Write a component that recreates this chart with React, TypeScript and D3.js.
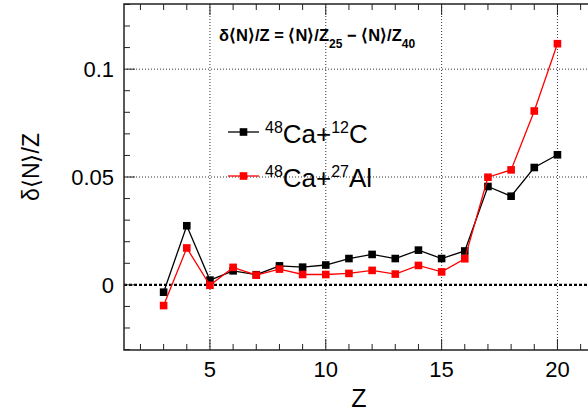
import React, { useEffect, useRef } from 'react';
import * as d3 from 'd3';

const W = 588, H = 412;
const MARGIN = { top: 4, left: 124, bottom: 62 };
const PLOT_RIGHT = 601;

const Z = [3, 4, 5, 6, 7, 8, 9, 10, 11, 12, 13, 14, 15, 16, 17, 18, 19, 20];
const CA_C = [-0.0034, 0.0274, 0.0022, 0.0065, 0.0047, 0.0088, 0.0082, 0.0092, 0.0122, 0.0141, 0.0122, 0.0161, 0.0122, 0.0157, 0.0456, 0.0411, 0.0544, 0.0603];
const CA_AL = [-0.0096, 0.0171, -0.0002, 0.0081, 0.0045, 0.0073, 0.0048, 0.0048, 0.0053, 0.0067, 0.005, 0.009, 0.006, 0.0121, 0.0499, 0.0533, 0.0806, 0.1118];
const X_TICKS = [5, 10, 15, 20];
const Y_TICKS = [0, 0.05, 0.1];
const Y_TICK_LABELS = ['0', '0.05', '0.1'];

const SERIES = [
  { name: 'C', values: CA_C, color: '#000000', a: '48', b: 'Ca+', c: '12', d: 'C' },
  { name: 'Al', values: CA_AL, color: '#ff0000', a: '48', b: 'Ca+', c: '27', d: 'Al' },
];

const FONT = 'Liberation Sans, Arial, Helvetica, sans-serif';

export default function App() {
  const ref = useRef<HTMLDivElement>(null);

  useEffect(() => {
    const el = ref.current!;
    d3.select(el).selectAll('*').remove();

    const svg = d3.select(el).append('svg')
      .attr('width', W).attr('height', H)
      .style('display', 'block')
      .style('font-family', FONT);

    svg.append('rect').attr('width', W).attr('height', H).attr('fill', '#fff');

    const bottom = H - MARGIN.bottom;
    const x = d3.scaleLinear().domain([1.29, 21.88]).range([MARGIN.left, PLOT_RIGHT]);
    const y = d3.scaleLinear().domain([-0.0302, 0.1302]).range([bottom, MARGIN.top]);

    // grid
    const grid = svg.append('g');
    X_TICKS.forEach(t => {
      grid.append('line')
        .attr('x1', x(t)).attr('x2', x(t)).attr('y1', MARGIN.top).attr('y2', bottom)
        .attr('stroke', '#333').attr('stroke-width', 1).attr('stroke-dasharray', '1,2');
    });
    [0.05, 0.1].forEach(t => {
      grid.append('line')
        .attr('x1', MARGIN.left).attr('x2', PLOT_RIGHT).attr('y1', y(t)).attr('y2', y(t))
        .attr('stroke', '#333').attr('stroke-width', 1).attr('stroke-dasharray', '1,2');
    });
    // zero line
    svg.append('line')
      .attr('x1', MARGIN.left).attr('x2', PLOT_RIGHT).attr('y1', y(0)).attr('y2', y(0))
      .attr('stroke', '#000').attr('stroke-width', 2.2).attr('stroke-dasharray', '3,2');

    // frame
    svg.append('rect')
      .attr('x', MARGIN.left).attr('y', MARGIN.top)
      .attr('width', PLOT_RIGHT - MARGIN.left).attr('height', bottom - MARGIN.top)
      .attr('fill', 'none').attr('stroke', '#222').attr('stroke-width', 1.5);

    // ticks
    const ticks = svg.append('g').attr('stroke', '#222').attr('stroke-width', 1);
    for (let t = 2; t <= 21; t++) {
      const len = t % 5 === 0 ? 11 : 6;
      ticks.append('line').attr('x1', x(t)).attr('x2', x(t)).attr('y1', bottom).attr('y2', bottom - len);
      ticks.append('line').attr('x1', x(t)).attr('x2', x(t)).attr('y1', MARGIN.top).attr('y2', MARGIN.top + len);
    }
    for (let i = -3; i <= 13; i++) {
      const t = i / 100;
      const len = i % 5 === 0 ? 11 : 6;
      ticks.append('line').attr('x1', MARGIN.left).attr('x2', MARGIN.left + len).attr('y1', y(t)).attr('y2', y(t));
    }

    // tick labels
    X_TICKS.forEach(t => {
      svg.append('text').attr('x', x(t)).attr('y', 377)
        .attr('text-anchor', 'middle').attr('font-size', 22).attr('fill', '#000').text(String(t));
    });
    Y_TICKS.forEach((t, i) => {
      svg.append('text').attr('x', 114).attr('y', y(t) + 8)
        .attr('text-anchor', 'end').attr('font-size', 22).attr('fill', '#000').text(Y_TICK_LABELS[i]);
    });

    // axis titles
    svg.append('text').attr('x', 359).attr('y', 407)
      .attr('text-anchor', 'middle').attr('font-size', 25).attr('fill', '#000').text('Z');
    svg.append('text')
      .attr('transform', 'translate(39,167) rotate(-90)')
      .attr('text-anchor', 'middle').attr('font-size', 23).attr('fill', '#000').text('δ⟨N⟩/Z');

    // formula
    const f = svg.append('text').attr('x', 219).attr('y', 41)
      .attr('font-size', 16.5).attr('font-weight', 'bold').attr('fill', '#000');
    f.append('tspan').text('δ⟨N⟩/Z = ⟨N⟩/Z');
    f.append('tspan').attr('font-size', 12).attr('dy', 7).text('25');
    f.append('tspan').attr('dy', -7).text('  −  ⟨N⟩/Z');
    f.append('tspan').attr('font-size', 12).attr('dy', 7).text('40');

    // series
    const line = d3.line<number>().x((_, i) => x(Z[i])).y(d => y(d));
    SERIES.forEach(s => {
      svg.append('path').attr('d', line(s.values)!)
        .attr('fill', 'none').attr('stroke', s.color).attr('stroke-width', 1.3);
      svg.append('g').selectAll('rect').data(s.values).join('rect')
        .attr('x', (_, i) => x(Z[i]) - 3.8).attr('y', d => y(d) - 3.8)
        .attr('width', 7.6).attr('height', 7.6).attr('fill', s.color);
    });

    // legend
    SERIES.forEach((s, i) => {
      const ly = 132 + i * 44;
      svg.append('line').attr('x1', 228).attr('x2', 259).attr('y1', ly).attr('y2', ly)
        .attr('stroke', s.color).attr('stroke-width', 1.3);
      svg.append('rect').attr('x', 243.5 - 3.8).attr('y', ly - 3.8)
        .attr('width', 7.6).attr('height', 7.6).attr('fill', s.color);
      const t = svg.append('text').attr('x', 265).attr('y', ly + 10.5)
        .attr('font-size', 26).attr('fill', '#000');
      t.append('tspan').attr('font-size', 16).attr('dy', -10).text(s.a);
      t.append('tspan').attr('dy', 10).text(s.b);
      t.append('tspan').attr('font-size', 16).attr('dy', -10).text(s.c);
      t.append('tspan').attr('dy', 10).text(s.d);
    });
  }, []);

  return <div ref={ref} style={{ position: 'fixed', left: 0, top: 0, width: W, height: H, overflow: 'hidden' }} />;
}
